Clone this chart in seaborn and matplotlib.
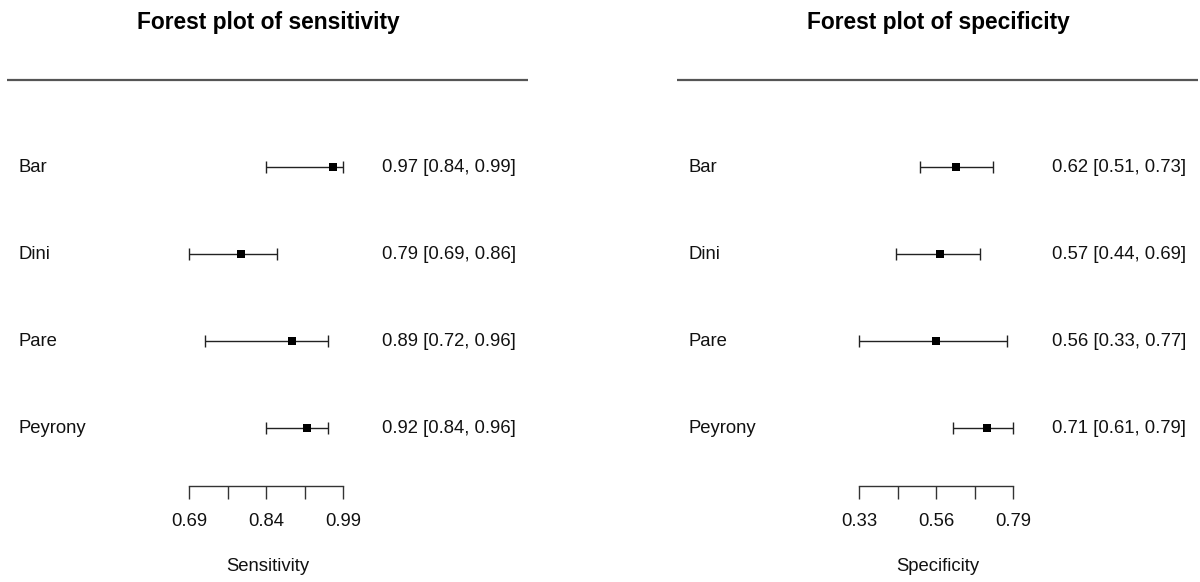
import numpy as np
import pandas as pd
import matplotlib
matplotlib.use("Agg")
import matplotlib.pyplot as plt
import seaborn as sns

# ---- data ----
studies = ["Bar", "Dini", "Pare", "Peyrony"]
sens_est = [0.97, 0.79, 0.89, 0.92]
sens_lo = [0.84, 0.69, 0.72, 0.84]
sens_hi = [0.99, 0.86, 0.96, 0.96]
spec_est = [0.62, 0.57, 0.56, 0.71]
spec_lo = [0.51, 0.44, 0.33, 0.61]
spec_hi = [0.73, 0.69, 0.77, 0.79]

sns.set_theme(style="white")
plt.rcParams["font.family"] = ["Liberation Sans", "DejaVu Sans"]

W, H = 1200, 582
fig = plt.figure(figsize=(W / 100, H / 100), dpi=100)

# layout (pixels)
row0_px, row_step_px = 167.3, 86.9
axis_lo_px, axis_hi_px = 189.3, 343.3
panel_offset = 670
FS = 13.3


def ypx(p):
    return (p - row0_px) / row_step_px


panels = [
    ("Forest plot of sensitivity", "Sensitivity", sens_est, sens_lo, sens_hi),
    ("Forest plot of specificity", "Specificity", spec_est, spec_lo, spec_hi),
]

for k, (title, xlabel, est, lo, hi) in enumerate(panels):
    off = k * panel_offset
    ax = fig.add_axes([0, 0, 1, 1], facecolor="none")
    amin, amax = min(lo), max(hi)
    scale = (amax - amin) / (axis_hi_px - axis_lo_px)
    xmin = amin - (axis_lo_px + off) * scale
    ax.set_xlim(xmin, xmin + W * scale)
    ax.set_ylim(ypx(H), ypx(0))

    df = pd.DataFrame({"study": studies, "est": est, "lo": lo, "hi": hi,
                       "row": np.arange(len(studies))})
    ax.errorbar(df["est"], df["row"], xerr=[df["est"] - df["lo"], df["hi"] - df["est"]],
                fmt="none", ecolor="#222222", elinewidth=1.0, capsize=4, capthick=1.0)
    sns.scatterplot(data=df, x="est", y="row", marker="s", s=40, color="black",
                    linewidth=0, ax=ax, zorder=3)

    # labels
    px2x = lambda p: xmin + p * scale
    for r, name in enumerate(studies):
        ax.text(px2x(18.3 + off), r, name, ha="left", va="center", fontsize=FS, color="#111111")
        ax.text(px2x(381.5 + off), r,
                f"{est[r]:.2f} [{lo[r]:.2f}, {hi[r]:.2f}]",
                ha="left", va="center", fontsize=FS, color="#111111")

    # title and rule
    ax.text(px2x(268 + off), ypx(22), title, ha="center", va="center",
            fontsize=16.4, fontweight="bold", color="black")
    ax.hlines(ypx(80), px2x(7 + off), px2x(528 + off), color="#555555", lw=1.6)

    # x axis
    ticks = np.linspace(amin, amax, 5)
    labels = [f"{t:.2f}" if i % 2 == 0 else "" for i, t in enumerate(ticks)]
    for side in ["top", "left", "right"]:
        ax.spines[side].set_visible(False)
    ax.spines["bottom"].set_position(("data", ypx(485.7)))
    ax.spines["bottom"].set_bounds(amin, amax)
    ax.spines["bottom"].set_color("#333333")
    ax.spines["bottom"].set_linewidth(1.0)
    ax.set_xticks(ticks)
    ax.set_xticklabels(labels)
    ax.tick_params(axis="x", direction="out", length=9, width=1.0, color="#333333",
                   pad=11, labelsize=FS, labelcolor="#111111", bottom=True)
    ax.set_yticks([])
    ax.set_xlabel("")
    ax.set_ylabel("")
    ax.text(px2x(268 + off), ypx(566.7), xlabel, ha="center", va="center",
            fontsize=FS, color="#111111")

fig.savefig("out.png", dpi=100)
